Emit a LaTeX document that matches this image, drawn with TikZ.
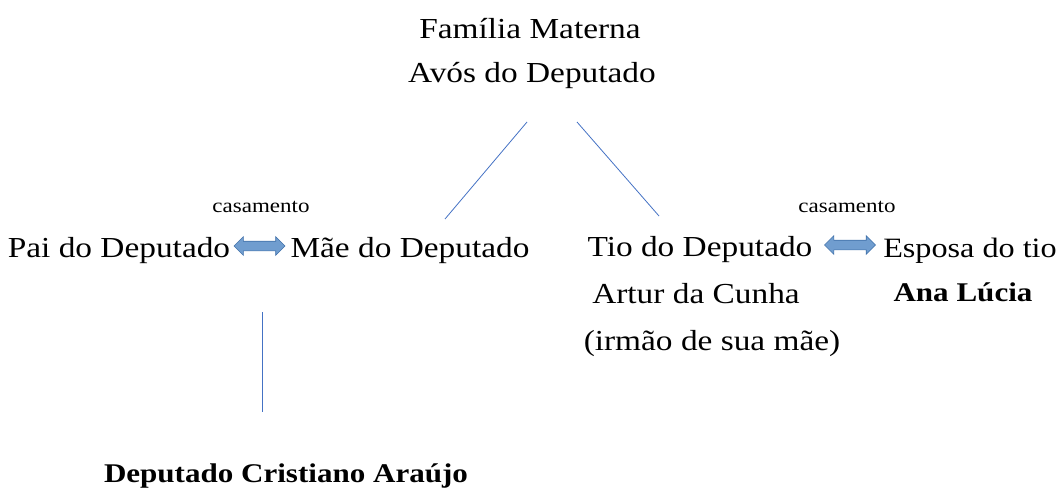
\documentclass[tikz,border=0pt]{standalone}
\usepackage{fontspec}
\setmainfont{Liberation Serif}[FakeStretch=1.15]
\usepackage{xcolor}
\usetikzlibrary{shapes, arrows, positioning, arrows.meta, calc}

\definecolor{linhaazul}{RGB}{68,114,196}
\definecolor{setafill}{RGB}{112,157,207}
\definecolor{setaborda}{RGB}{65,113,170}

\begin{document}
\begin{tikzpicture}[x=1pt, y=-1pt,
        txt/.style={inner sep=0pt, anchor=base, font=\fontsize{29}{34}\selectfont},
        nome/.style={inner sep=0pt, anchor=base, font=\fontsize{27}{32}\selectfont\bfseries},
        pequeno/.style={inner sep=0pt, anchor=base, font=\fontsize{20}{24}\selectfont},
        seta/.style={double arrow, double arrow head extend=4.5pt, minimum height=51pt, inner xsep=0pt, inner ysep=4.5pt, fill=setafill, draw=setaborda, line width=0.6pt},
        ramo/.style={draw=linhaazul, line width=0.8pt}]
        \useasboundingbox (0,0) rectangle (1062,487);

        % Avos maternos
        \node[txt] (fam) at (530,38) {Família Materna};
        \node[txt] (avos) at (532,82) {Avós do Deputado};

        % Pais do deputado
        \node[txt] (pai) at (119,257) {Pai do Deputado};
        \node[seta] (setaL) at (259.5,246) {};
        \node[txt] (mae) at (410,257) {Mãe do Deputado};
        \node[pequeno] (casL) at (261,212) {casamento};

        % Tio e esposa
        \node[txt] (tio) at (700,256) {Tio do Deputado};
        \node[txt] (artur) at (696,303) {Artur da Cunha};
        \node[txt] (irmao) at (712,350) {(irmão de sua mãe)};
        \node[seta] (setaR) at (850,245) {};
        \node[txt, font=\fontsize{28}{34}\selectfont] (esposa) at (970,257) {Esposa do tio};
        \node[nome] (ana) at (963,301) {Ana Lúcia};
        \node[pequeno] (casR) at (847,212) {casamento};

        \node[nome] (deputado) at (286,482) {Deputado Cristiano Araújo};

        % Ramos
        \coordinate (avosL) at (527,122);
        \coordinate (maeT) at (445,219);
        \coordinate (avosR) at (577,122);
        \coordinate (tioT) at (659,216);
        \coordinate (paiB) at (262,312);
        \coordinate (depT) at (262,412);
        \draw[ramo] (avosL) -- (maeT);
        \draw[ramo] (avosR) -- (tioT);
        \draw[ramo] (paiB) -- (depT);

    \end{tikzpicture}
\end{document}
